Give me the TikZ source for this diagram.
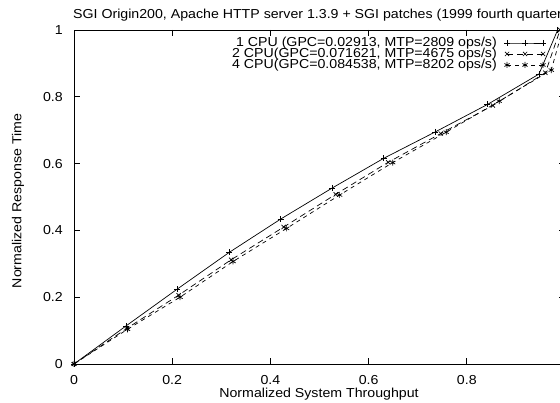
\documentclass[tikz,border=0pt]{standalone}
\usepackage{fontspec}
\setmainfont{Liberation Sans}[FakeStretch=1.09]
\usetikzlibrary{plotmarks}
\tikzset{
  lbl/.style={inner sep=0pt, font=\fontsize{13}{15}\selectfont},
  axisline/.style={line width=0.8pt, black},
  cpuone/.style={line width=0.7pt, black},
  cputwo/.style={line width=0.7pt, black, dash pattern=on 6pt off 4pt},
  cpufour/.style={line width=0.7pt, black, dash pattern=on 4pt off 4pt},
  mkone/.style={mark=+, mark size=3pt, mark options={solid, line width=0.7pt}},
  mktwo/.style={mark=x, mark size=3pt, mark options={solid, line width=0.7pt}},
  mkfour/.style={mark=asterisk, mark size=3pt, mark options={solid, line width=0.7pt}}
}
\begin{document}
\begin{tikzpicture}[x=1pt,y=1pt]
\useasboundingbox (0,0) rectangle (560,403);
\clip (0,0) rectangle (560,403);
\fill[white] (0,0) rectangle (560,403);
% title
\node[lbl, anchor=west] (title) at (73,388) {SGI Origin200, Apache HTTP server 1.3.9 + SGI patches (1999 fourth quarter)};
% axis labels
\node[lbl, rotate=90] (ylab) at (18,202) {Normalized Response Time};
\node[lbl] (xlab) at (319,9) {Normalized System Throughput};
\begin{scope}[shift={(74,39)}, x=491pt, y=334pt]
  \draw[axisline] (0,0) rectangle (1,1);
  \foreach \t in {0.2,0.4,0.6,0.8}{
    \draw[axisline] (\t,0) -- ++(0,6pt);
    \draw[axisline] (\t,1) -- ++(0,-6pt);
    \draw[axisline] (0,\t) -- ++(6pt,0);
    \draw[axisline] (1,\t) -- ++(-6pt,0);
  }
  \foreach \t/\s in {0/0,0.2/0.2,0.4/0.4,0.6/0.6,0.8/0.8,1/1}{
    \node[lbl, anchor=east] (yt\s) at ([xshift=-11pt]0,\t) {\s};
  }
  \foreach \t/\s in {0/0,0.2/0.2,0.4/0.4,0.6/0.6,0.8/0.8,1/1}{
    \node[lbl, anchor=north] (xt\s) at ([yshift=-11pt]\t,0) {\s};
  }
  % data
  \draw[cpuone] plot[mkone] coordinates {(0,0) (0.106,0.114) (0.210,0.224) (0.316,0.334) (0.421,0.434) (0.526,0.527) (0.631,0.616) (0.736,0.695) (0.842,0.777) (0.947,0.868) (0.985,1)};
  \draw[cputwo] plot[mktwo] coordinates {(0,0) (0.108,0.107) (0.213,0.206) (0.320,0.312) (0.427,0.410) (0.533,0.508) (0.640,0.604) (0.747,0.690) (0.853,0.774) (0.960,0.872) (0.990,1)};
  \draw[cpufour] plot[mkfour] coordinates {(0,0) (0.109,0.104) (0.216,0.200) (0.324,0.307) (0.433,0.406) (0.541,0.506) (0.649,0.603) (0.758,0.694) (0.866,0.787) (0.972,0.880) (0.995,1)};
\end{scope}
% legend
\node[lbl, anchor=east] (leg1) at (497,360) {1 CPU (GPC=0.02913, MTP=2809 ops/s)};
\node[lbl, anchor=east] (leg2) at (497,349) {2 CPU(GPC=0.071621, MTP=4675 ops/s)};
\node[lbl, anchor=east] (leg3) at (497,338) {4 CPU(GPC=0.084538, MTP=8202 ops/s)};
\draw[cpuone] plot[mkone] coordinates {(507,360) (525,360) (543,360)};
\draw[cputwo] plot[mktwo] coordinates {(507,349) (525,349) (543,349)};
\draw[cpufour] plot[mkfour] coordinates {(507,338) (525,338) (543,338)};
\end{tikzpicture}
\end{document}
